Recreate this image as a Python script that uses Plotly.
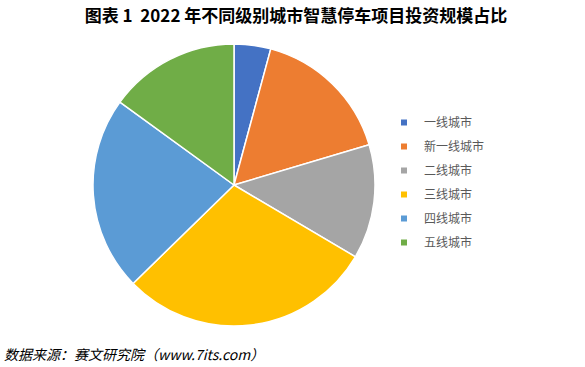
import plotly.graph_objects as go

categories = ["一线城市", "新一线城市", "二线城市", "三线城市", "四线城市", "五线城市"]
shares = [4.2, 16.2, 13.1, 29.2, 22.3, 15.0]
colors = ["#4472C4", "#ED7D31", "#A5A5A5", "#FFC000", "#5B9BD5", "#70AD47"]
title_text = "图表 1  2022 年不同级别城市智慧停车项目投资规模占比"
source_text = "数据来源：赛文研究院（www.7its.com）"

W, H = 585, 367
cx, cy, r = 234, 185, 141

fig = go.Figure()
fig.add_trace(go.Pie(
    labels=categories,
    values=shares,
    sort=False,
    direction="clockwise",
    rotation=0,
    textinfo="none",
    marker=dict(colors=colors, line=dict(color="white", width=1.5)),
    showlegend=False,
    domain=dict(x=[(cx - r) / W, (cx + r) / W], y=[(H - cy - r) / H, (H - cy + r) / H]),
))

# legend entries (one per category, separate groups for spacing)
for name, col in zip(categories, colors):
    fig.add_trace(go.Scatter(
        x=[None], y=[None], mode="markers", name=name, legendgroup=name,
        marker=dict(symbol="square", size=6, color=col),
        showlegend=True, hoverinfo="skip",
    ))

fig.update_layout(
    width=W, height=H,
    margin=dict(l=0, r=0, t=0, b=0),
    paper_bgcolor="white", plot_bgcolor="white",
    xaxis=dict(visible=False), yaxis=dict(visible=False),
    font=dict(family="Noto Sans CJK SC"),
    title=dict(
        text="<b>" + title_text + "</b>",
        x=296 / W, xanchor="center", y=1 - 16 / H, yanchor="middle",
        font=dict(family="Noto Sans CJK SC", size=17, color="#000000"),
    ),
    legend=dict(
        x=384 / W, xanchor="left", y=1 - 108 / H, yanchor="top",
        font=dict(size=12, color="#595959"),
        tracegroupgap=5, itemsizing="trace",
        bgcolor="rgba(0,0,0,0)",
    ),
    annotations=[dict(
        text=source_text, x=2 / W, xanchor="left", y=1 - 354 / H, yanchor="middle",
        xref="paper", yref="paper", showarrow=False,
        font=dict(family="Noto Sans CJK SC", size=14, color="#000000", style="italic"),
    )],
)

fig.write_html("out.html", config={"displayModeBar": False},
               post_script="document.body.style.margin='0px';")
